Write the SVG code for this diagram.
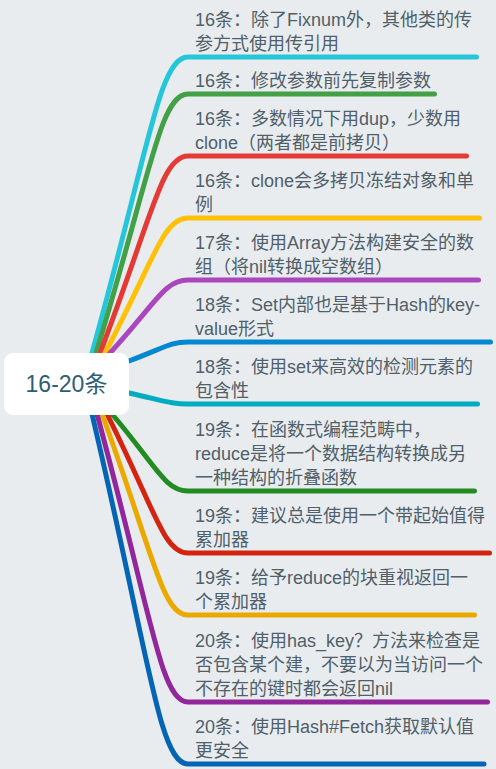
<svg xmlns="http://www.w3.org/2000/svg" width="496" height="769" viewBox="0 0 496 769">
<style>
.bg{fill:#e8ecef}
.c{fill:none;stroke-width:5;stroke-linecap:round;stroke-linejoin:round}
.t{font-family:"Liberation Sans","Noto Sans CJK SC",sans-serif;font-size:18px;fill:#505f69}
.root{font-family:"Liberation Sans","Noto Sans CJK SC",sans-serif;font-size:23px;fill:#2e5d74}
</style>
<rect class="bg" x="0" y="0" width="496" height="769"/>
<g id="connectors">
<path class="c" stroke="#26c6da" d="M92,353 C149.6,145.8 159.2,57 188,57 H476.5"/>
<path class="c" stroke="#43a047" d="M96,353 C151.2,171.7 160.4,94 188,94 H434.5"/>
<path class="c" stroke="#e53935" d="M100,353 C152.8,215.1 161.6,156 188,156 H466.5"/>
<path class="c" stroke="#ffc107" d="M105,353 C154.8,258.5 163.1,218 188,218 H479.5"/>
<path class="c" stroke="#ab47bc" d="M110,353 C156.8,301.9 164.6,280 188,280 H478.5"/>
<path class="c" stroke="#0288d1" d="M129,361 C164.4,347.7 170.3,342 188,342 H490.5"/>
<path class="c" stroke="#00acc1" d="M129,393 C164.4,400.7 170.3,404 188,404 H477.5"/>
<path class="c" stroke="#228b22" d="M112,414 C157.6,467.9 165.2,491 188,491 H474.5"/>
<path class="c" stroke="#d3240f" d="M107,414 C155.6,511.3 163.7,553 188,553 H489.5"/>
<path class="c" stroke="#eba900" d="M102,414 C153.6,554.7 162.2,615 188,615 H474.5"/>
<path class="c" stroke="#92279b" d="M97,414 C151.6,615.6 160.7,702 188,702 H487.5"/>
<path class="c" stroke="#0565b5" d="M92,414 C149.6,659 159.2,764 188,764 H484"/>
</g>
<g id="root">
<rect x="4" y="353" width="125" height="62" rx="9" fill="#ffffff"/>
<text class="root" x="66.5" y="392" text-anchor="middle">16-20条</text>
</g>
<g id="t1"><text class="t" x="195" y="26">16条：除了Fixnum外，其他类的传</text><text class="t" x="195" y="50">参方式使用传引用</text></g>
<g id="t2"><text class="t" x="195" y="87">16条：修改参数前先复制参数</text></g>
<g id="t3"><text class="t" x="195" y="125">16条：多数情况下用dup，少数用</text><text class="t" x="195" y="149">clone（两者都是前拷贝）</text></g>
<g id="t4"><text class="t" x="195" y="187">16条：clone会多拷贝冻结对象和单</text><text class="t" x="195" y="211">例</text></g>
<g id="t5"><text class="t" x="195" y="249">17条：使用Array方法构建安全的数</text><text class="t" x="195" y="273">组（将nil转换成空数组）</text></g>
<g id="t6"><text class="t" x="195" y="311">18条：Set内部也是基于Hash的key-</text><text class="t" x="195" y="335">value形式</text></g>
<g id="t7"><text class="t" x="195" y="373">18条：使用set来高效的检测元素的</text><text class="t" x="195" y="397">包含性</text></g>
<g id="t8"><text class="t" x="195" y="436">19条：在函数式编程范畴中，</text><text class="t" x="195" y="460">reduce是将一个数据结构转换成另</text><text class="t" x="195" y="484">一种结构的折叠函数</text></g>
<g id="t9"><text class="t" x="195" y="522">19条：建议总是使用一个带起始值得</text><text class="t" x="195" y="546">累加器</text></g>
<g id="t10"><text class="t" x="195" y="584">19条：给予reduce的块重视返回一</text><text class="t" x="195" y="608">个累加器</text></g>
<g id="t11"><text class="t" x="195" y="647">20条：使用has_key？方法来检查是</text><text class="t" x="195" y="671">否包含某个建，不要以为当访问一个</text><text class="t" x="195" y="695">不存在的键时都会返回nil</text></g>
<g id="t12"><text class="t" x="195" y="733">20条：使用Hash#Fetch获取默认值</text><text class="t" x="195" y="757">更安全</text></g>
</svg>
